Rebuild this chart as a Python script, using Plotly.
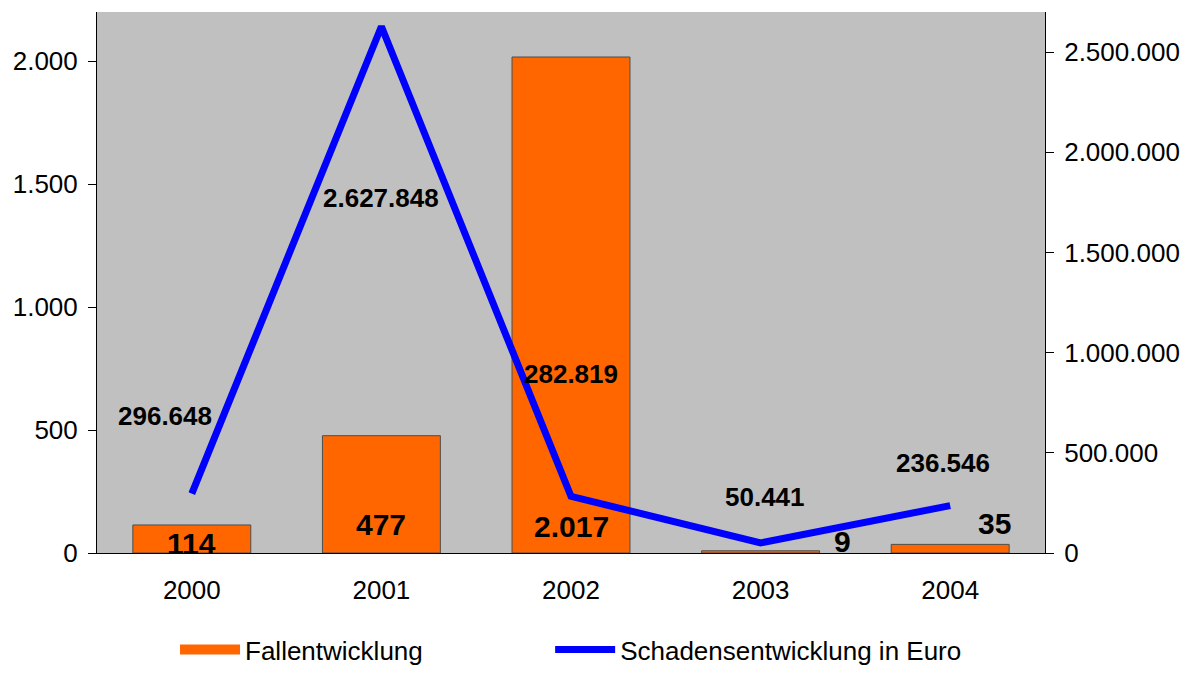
import plotly.graph_objects as go

years = ["2000", "2001", "2002", "2003", "2004"]
faelle = [114, 477, 2017, 9, 35]
schaden = [296648, 2627848, 282819, 50441, 236546]
faelle_labels = ["114", "477", "2.017", "9", "35"]
schaden_labels = ["296.648", "2.627.848", "282.819", "50.441", "236.546"]

left_ticks = [0, 500, 1000, 1500, 2000]
left_ticktext = ["0", "500", "1.000", "1.500", "2.000"]
right_ticks = [0, 500000, 1000000, 1500000, 2000000, 2500000]
right_ticktext = ["0", "500.000", "1.000.000", "1.500.000", "2.000.000", "2.500.000"]

# label offsets (px) relative to data points
bar_lbl_xshift = [0, 0, 0, 82, 44]
bar_lbl_yshift = [10, 29, 27, 12, 30]
line_lbl_xshift = [-27, 0, 0, 4, -7]
line_lbl_yshift = [78, -172, 122, 46, 43]

FONT = "Liberation Sans, Arial, sans-serif"
ORANGE = "#FF6600"

fig = go.Figure()
fig.add_trace(go.Bar(
    x=years, y=faelle, name="Fallentwicklung",
    marker=dict(color=ORANGE, line=dict(color="#4d4d4d", width=1)),
    yaxis="y", showlegend=False,
))
# legend-only entry giving the wide orange key of the original
fig.add_trace(go.Scatter(
    x=[None], y=[None], name="Fallentwicklung", mode="lines",
    line=dict(color=ORANGE, width=15), yaxis="y", legend="legend",
))
fig.add_trace(go.Scatter(
    x=years, y=schaden, name="Schadensentwicklung in Euro",
    mode="lines", line=dict(color="#0000FF", width=7),
    yaxis="y2", legend="legend2",
))

annotations = []
for i in range(len(years)):
    annotations.append(dict(
        x=i, y=0, xref="x", yref="y", text=faelle_labels[i], showarrow=False,
        font=dict(family=FONT, size=30, color="black", weight="bold"),
        xshift=bar_lbl_xshift[i], yshift=bar_lbl_yshift[i],
    ))
    annotations.append(dict(
        x=i, y=schaden[i], xref="x", yref="y2", text=schaden_labels[i], showarrow=False,
        font=dict(family=FONT, size=26, color="black", weight="bold"),
        xshift=line_lbl_xshift[i], yshift=line_lbl_yshift[i],
    ))

legend_common = dict(orientation="h", yref="container", y=-0.013, yanchor="bottom",
                     font=dict(size=26), bgcolor="rgba(0,0,0,0)", itemwidth=60)

fig.update_layout(
    width=1186, height=673,
    margin=dict(l=97, r=141, t=12, b=120),
    paper_bgcolor="white", plot_bgcolor="#C0C0C0",
    font=dict(family=FONT, size=26, color="black"),
    bargap=0.378,
    showlegend=True,
    legend=dict(x=0.0823, xanchor="left", **legend_common),
    legend2=dict(x=0.478, xanchor="left", **legend_common),
    xaxis=dict(type="category", range=[-0.5, 4.5], showgrid=False, showline=True,
               linecolor="black", linewidth=1, ticks="", tickfont=dict(size=26),
               ticklabelstandoff=14, automargin=False),
    yaxis=dict(range=[0, 2200], tickvals=left_ticks, ticktext=left_ticktext,
               showgrid=False, showline=True, linecolor="black", linewidth=1,
               ticks="outside", ticklen=8, tickcolor="black", tickfont=dict(size=26),
               zeroline=False, ticklabelstandoff=5, automargin=False),
    yaxis2=dict(range=[0, 2700000], tickvals=right_ticks, ticktext=right_ticktext,
                overlaying="y", side="right", showgrid=False, showline=True,
                linecolor="black", linewidth=1, ticks="outside", ticklen=8,
                tickcolor="black", tickfont=dict(size=26), zeroline=False,
                ticklabelstandoff=5, automargin=False),
    annotations=annotations,
)

fig.write_html("out.html")
